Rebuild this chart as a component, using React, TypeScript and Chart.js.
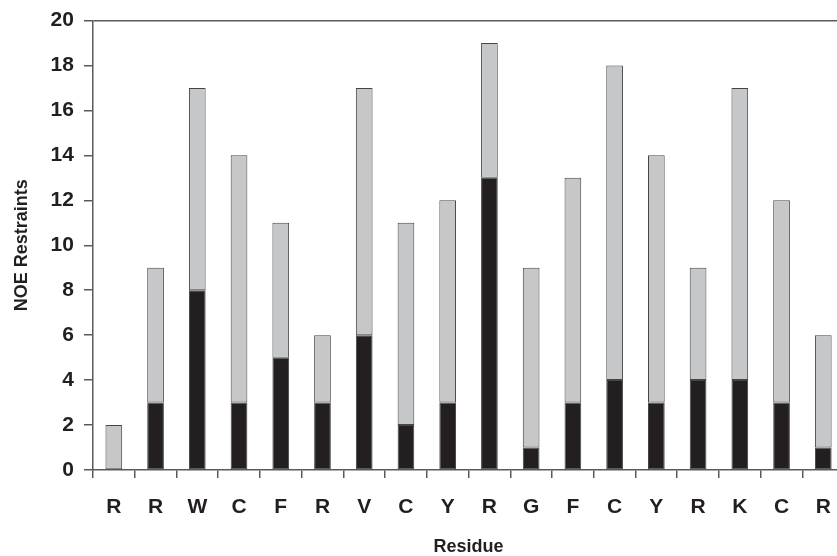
import React, { useEffect, useRef } from "react";
import { Chart, registerables } from "chart.js";

Chart.register(...registerables);

const residues = ["R", "R", "W", "C", "F", "R", "V", "C", "Y", "R", "G", "F", "C", "Y", "R", "K", "C", "R"];
const blackValues = [0, 3, 8, 3, 5, 3, 6, 2, 3, 13, 1, 3, 4, 3, 4, 4, 3, 1];
const grayValues = [2, 6, 9, 11, 6, 3, 11, 9, 9, 6, 8, 10, 14, 11, 5, 13, 9, 5];
const yTicks = [0, 2, 4, 6, 8, 10, 12, 14, 16, 18, 20];

const FONT = "'Liberation Sans', Arial, Helvetica, sans-serif";
const AXIS = "#5a5a5a";
const TEXT = "#231f20";

export default function App() {
  const ref = useRef<HTMLCanvasElement | null>(null);
  useEffect(() => {
    if (!ref.current) return;
    const bw = (ctx: any) => (ctx.raw === 0 ? 0 : 1);
    const chart = new Chart(ref.current, {
      type: "bar",
      data: {
        labels: residues,
        datasets: [
          {
            label: "black",
            data: blackValues,
            backgroundColor: "#231f20",
            borderColor: "#454545",
            borderWidth: bw,
            borderSkipped: false,
            barPercentage: 0.4,
            categoryPercentage: 1,
          },
          {
            label: "gray",
            data: grayValues,
            backgroundColor: "#c6c7c9",
            borderColor: "#454545",
            borderWidth: bw,
            borderSkipped: false,
            barPercentage: 0.4,
            categoryPercentage: 1,
          },
        ],
      },
      options: {
        responsive: false,
        animation: false,
        layout: { padding: { top: 4, right: 5, left: 11, bottom: 0 } },
        plugins: { legend: { display: false }, tooltip: { enabled: false } },
        scales: {
          x: {
            stacked: true,
            offset: true,
            grid: {
              offset: true,
              drawOnChartArea: false,
              drawTicks: true,
              tickLength: 8,
              color: AXIS,
              lineWidth: 1.5,
            },
            border: { display: true, color: AXIS, width: 1.5 },
            ticks: {
              color: TEXT,
              font: { family: FONT, size: 21, weight: "bold", lineHeight: 1.0 },
              padding: 19,
              maxRotation: 0,
            },
            title: {
              display: true,
              text: "Residue",
              color: TEXT,
              font: { family: FONT, size: 18, weight: "bold", lineHeight: 1.0 },
              padding: { top: 1, bottom: 0 },
            },
          },
          y: {
            stacked: true,
            min: 0,
            max: 20,
            afterBuildTicks: (axis: any) => {
              axis.ticks = yTicks.map((v) => ({ value: v }));
            },
            grid: {
              drawTicks: true,
              tickLength: 9,
              color: (ctx: any) => (ctx.tick && ctx.tick.value === 20 ? AXIS : "rgba(0,0,0,0)"),
              tickColor: AXIS,
              lineWidth: 1.5,
            },
            border: { display: true, color: AXIS, width: 1.5 },
            ticks: {
              color: TEXT,
              font: { family: FONT, size: 21, weight: "bold", lineHeight: 1.0 },
              padding: 10,
            },
            title: {
              display: true,
              text: "NOE Restraints",
              color: TEXT,
              font: { family: FONT, size: 18, weight: "bold" },
              padding: { top: 0, bottom: 8 },
            },
          },
        },
      },
    });
    return () => chart.destroy();
  }, []);
  return (
    <div style={{ position: "fixed", left: 0, top: 0, width: 837, height: 556, overflow: "hidden", background: "#fff" }}>
      <canvas ref={ref} width={850} height={556} style={{ display: "block" }} />
    </div>
  );
}
